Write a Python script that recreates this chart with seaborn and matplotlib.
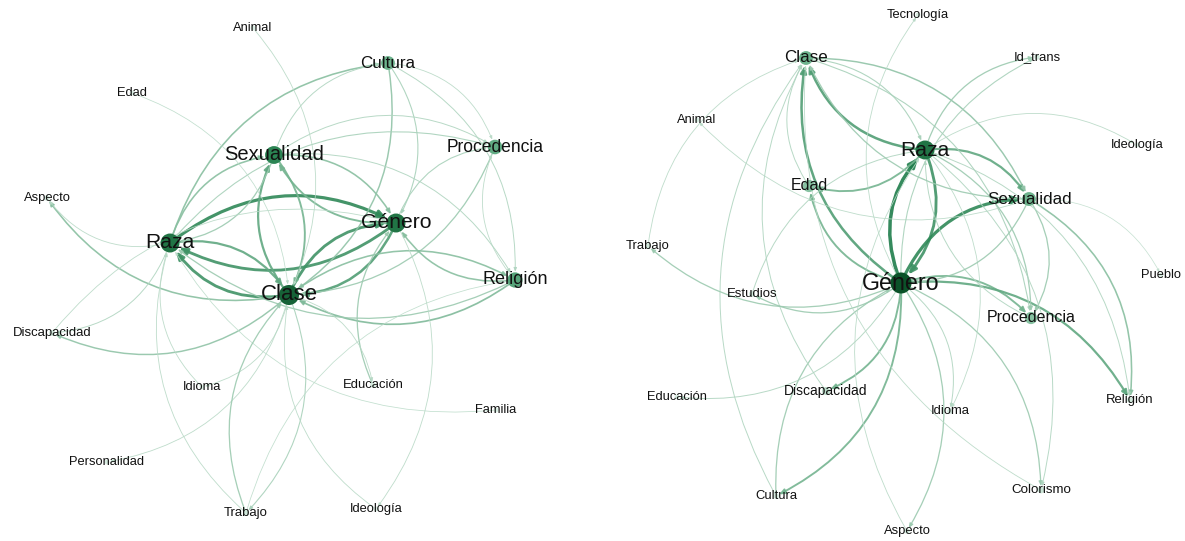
import pandas as pd
import seaborn as sns
import matplotlib.pyplot as plt
from matplotlib.patches import FancyArrowPatch
from matplotlib.colors import LinearSegmentedColormap, Normalize

# Red izquierda: nodos
nodos_izq = ['Animal', 'Cultura', 'Edad', 'Procedencia', 'Sexualidad', 'Aspecto', 'Género',
             'Raza', 'Religión', 'Clase', 'Discapacidad', 'Idioma', 'Educación', 'Familia',
             'Personalidad', 'Trabajo', 'Ideología']
x_izq = [253, 388, 132, 495, 274, 47, 396, 170, 515, 289, 52, 202, 373, 496, 107, 246, 376]
y_izq = [28, 63, 93, 147, 155, 198, 223, 243, 280, 295, 333, 387, 385, 410, 462, 513, 509]
peso_izq = [1, 5, 1, 5.5, 8, 1.2, 9, 9, 6, 10, 1.3, 1, 1.2, 1, 1, 1.3, 1]

# Red izquierda: aristas (origen -> destino, peso)
origen_izq = ['Raza', 'Género', 'Clase', 'Raza', 'Clase', 'Género', 'Clase', 'Sexualidad',
              'Género', 'Sexualidad', 'Raza', 'Sexualidad', 'Raza', 'Cultura', 'Cultura',
              'Cultura', 'Cultura', 'Sexualidad', 'Raza', 'Procedencia', 'Género',
              'Sexualidad', 'Religión', 'Religión', 'Clase', 'Religión', 'Religión',
              'Sexualidad', 'Clase', 'Raza', 'Clase', 'Raza', 'Discapacidad',
              'Animal', 'Edad', 'Idioma', 'Clase', 'Educación', 'Clase', 'Familia',
              'Clase', 'Trabajo', 'Clase', 'Trabajo', 'Trabajo', 'Ideología', 'Género']
destino_izq = ['Género', 'Raza', 'Raza', 'Clase', 'Género', 'Clase', 'Sexualidad', 'Clase',
               'Sexualidad', 'Género', 'Sexualidad', 'Raza', 'Cultura', 'Clase', 'Género',
               'Religión', 'Procedencia', 'Cultura', 'Procedencia', 'Clase', 'Procedencia',
               'Procedencia', 'Procedencia', 'Clase', 'Religión', 'Raza', 'Género',
               'Religión', 'Aspecto', 'Aspecto', 'Discapacidad', 'Discapacidad', 'Género',
               'Clase', 'Clase', 'Raza', 'Idioma', 'Género', 'Educación', 'Raza',
               'Personalidad', 'Clase', 'Trabajo', 'Raza', 'Religión', 'Clase', 'Ideología']
w_izq = [4.5, 4, 4, 3, 4, 3.5, 3, 2.5, 2.5, 2, 2, 1.5, 2, 1.8, 1.2, 1, 0.8, 1, 1.2, 1.5, 1.2,
         1, 0.8, 2.2, 2, 1.5, 2, 1, 2, 0.8, 1.8, 1, 0.8, 0.8, 0.7, 0.8, 0.8, 1.5, 0.8, 0.7,
         0.8, 1.5, 1.2, 0.8, 0.7, 0.8, 0.8]

# Red derecha: nodos
nodos_der = ['Tecnología', 'Clase', 'Id_trans', 'Animal', 'Raza', 'Ideología', 'Edad',
             'Sexualidad', 'Trabajo', 'Pueblo', 'Género', 'Estudios', 'Procedencia',
             'Educación', 'Discapacidad', 'Religión', 'Idioma', 'Colorismo', 'Cultura', 'Aspecto']
x_der = [918, 806, 1037, 697, 925, 1137, 809, 1029, 648, 1161, 901, 752, 1031, 677, 826, 1130,
         950, 1041, 776, 907]
y_der = [15, 58, 57, 120, 150, 145, 186, 199, 246, 275, 283, 294, 318, 397, 391, 400, 411,
         490, 496, 531]
peso_der = [1, 5, 1.2, 1, 9, 1, 4, 5, 1.2, 1, 11, 1.3, 4, 1, 2, 1.3, 1.2, 1.5, 1.2, 1.2]

# Red derecha: aristas
origen_der = ['Género', 'Raza', 'Género', 'Raza', 'Género', 'Raza', 'Raza', 'Género',
              'Género', 'Género', 'Género', 'Género', 'Cultura', 'Clase', 'Clase',
              'Clase', 'Discapacidad', 'Cultura', 'Género', 'Género', 'Género', 'Género',
              'Género', 'Género', 'Sexualidad', 'Sexualidad', 'Sexualidad', 'Sexualidad',
              'Estudios', 'Género', 'Raza', 'Género', 'Raza', 'Raza', 'Raza',
              'Raza', 'Trabajo', 'Edad', 'Procedencia', 'Sexualidad', 'Sexualidad', 'Raza',
              'Colorismo', 'Aspecto']
destino_der = ['Raza', 'Género', 'Clase', 'Clase', 'Sexualidad', 'Sexualidad', 'Edad', 'Edad',
               'Procedencia', 'Religión', 'Discapacidad', 'Cultura', 'Género', 'Sexualidad',
               'Raza', 'Procedencia', 'Clase', 'Clase', 'Estudios', 'Trabajo', 'Idioma',
               'Colorismo', 'Aspecto', 'Tecnología', 'Religión', 'Procedencia', 'Pueblo',
               'Animal', 'Raza', 'Educación', 'Id_trans', 'Id_trans', 'Ideología',
               'Procedencia', 'Colorismo', 'Idioma', 'Clase', 'Clase', 'Raza', 'Clase',
               'Género', 'Religión', 'Clase', 'Raza']
w_der = [5, 4, 3.5, 3.5, 4.5, 3, 2.5, 2.5, 2.5, 3, 2.5, 2.5, 1.5, 1.8, 1.2, 1.2, 1, 1, 1.5,
         1.5, 1, 1.5, 1.5, 0.8, 2, 1.5, 0.6, 0.8, 1, 1, 1.5, 1.2, 0.8, 1.5, 1, 0.8, 0.8, 1,
         1, 1.5, 1.5, 1, 0.8, 0.8]

cmap_nodo = LinearSegmentedColormap.from_list('nodo', ['#d9ede2', '#7dbd9a', '#2f8a58', '#0b5229'])
cmap_arista = LinearSegmentedColormap.from_list('arista', ['#c4e0d0', '#6aae88', '#1f7d4b'])
norm_nodo = (1, 11)
tam_nodo = (12, 230)
norm_w = Normalize(0.5, 5)


def radio_pt(p):
    s = tam_nodo[0] + (p - norm_nodo[0]) / (norm_nodo[1] - norm_nodo[0]) * (tam_nodo[1] - tam_nodo[0])
    return s ** 0.5 / 2


def dibujar_red(ax, nodos, xs, ys, pesos, origen, destino, w):
    df = pd.DataFrame({'nodo': nodos, 'x': xs, 'y': ys, 'peso': pesos})
    pos = {n: (x, y) for n, x, y in zip(nodos, xs, ys)}
    pw = dict(zip(nodos, pesos))
    # aristas curvas (se curvan a la izquierda del sentido, como Gephi)
    for a, b, wi in zip(origen, destino, w):
        flecha = FancyArrowPatch(pos[a], pos[b], connectionstyle='arc3,rad=-0.32',
                                 arrowstyle='-|>,head_length=0.7,head_width=0.3',
                                 mutation_scale=2 + 1.1 * wi,
                                 lw=0.25 + 0.45 * wi, color=cmap_arista(norm_w(wi)),
                                 alpha=0.9, shrinkA=radio_pt(pw[a]), shrinkB=radio_pt(pw[b]) + 0.5,
                                 zorder=1)
        ax.add_patch(flecha)
    sns.scatterplot(data=df, x='x', y='y', hue='peso', size='peso', palette=cmap_nodo,
                    hue_norm=norm_nodo, sizes=tam_nodo, size_norm=norm_nodo,
                    edgecolor='none', legend=False, ax=ax, zorder=2)
    for n, x, y, p in zip(nodos, xs, ys, pesos):
        ax.text(x, y, n, ha='center', va='center', fontsize=8.5 + 0.75 * p,
                color='#111111', zorder=3)


plt.rcParams['font.family'] = ['Liberation Sans', 'DejaVu Sans']
fig = plt.figure(figsize=(11.85, 5.41), dpi=100)
ax = fig.add_axes([0, 0, 1, 1])

dibujar_red(ax, nodos_izq, x_izq, y_izq, peso_izq, origen_izq, destino_izq, w_izq)
dibujar_red(ax, nodos_der, x_der, y_der, peso_der, origen_der, destino_der, w_der)

ax.set_xlim(0, 1185)
ax.set_ylim(541, 0)
ax.axis('off')
fig.savefig('out.png', dpi=100, facecolor='white')
